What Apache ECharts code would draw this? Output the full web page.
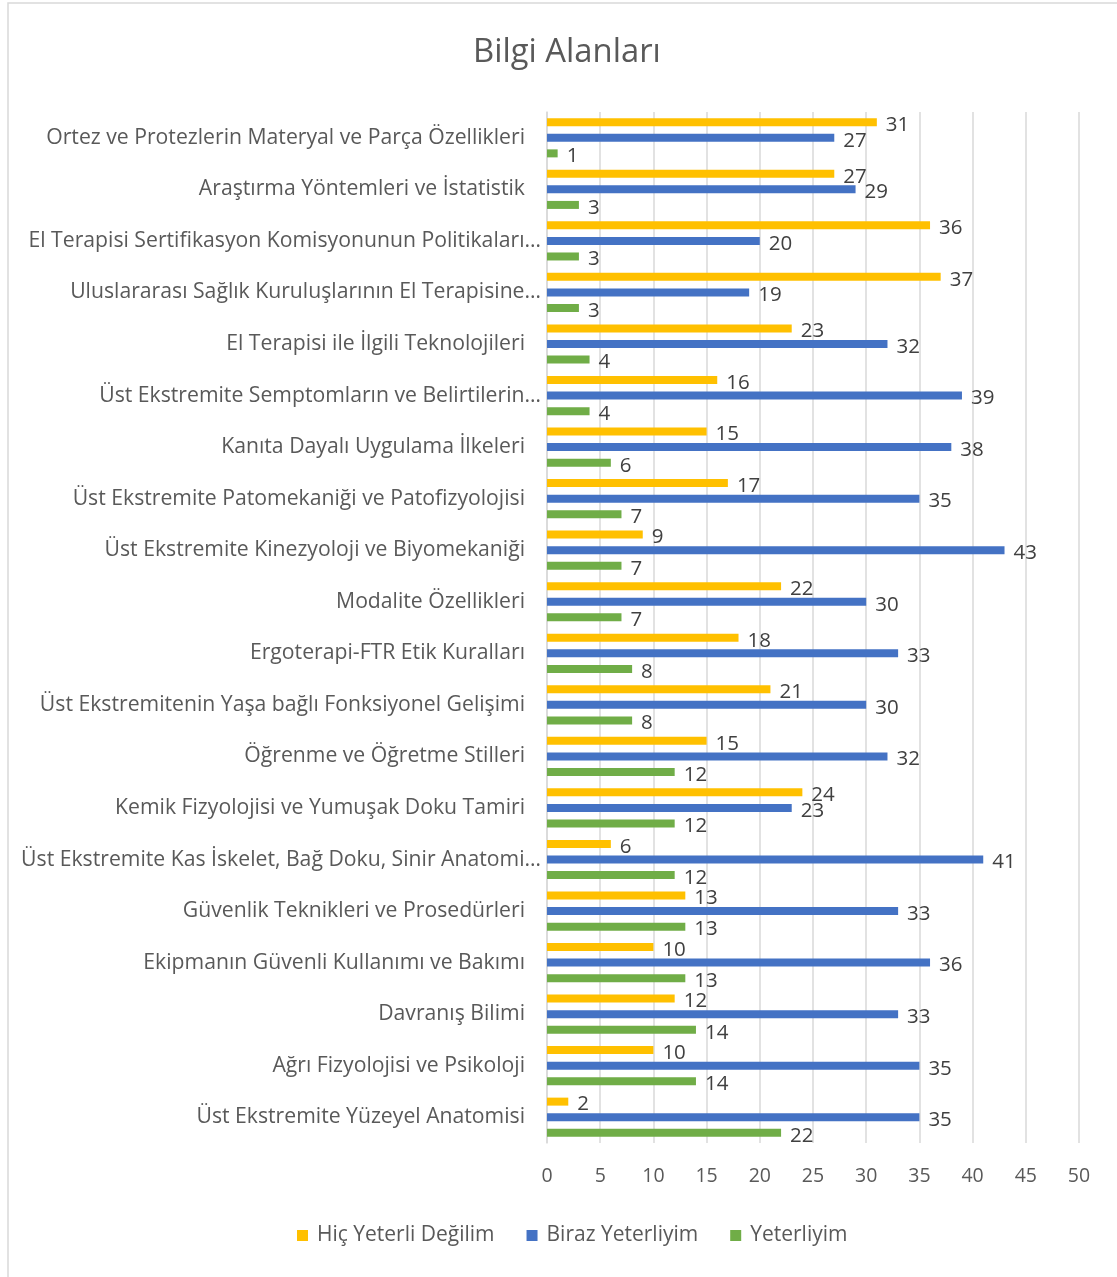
<!DOCTYPE html>
<html><head><meta charset="utf-8">
<script src="https://cdn.jsdelivr.net/npm/echarts@6/dist/echarts.min.js"></script>
<style>html,body{margin:0;padding:0;background:#fff}#c{width:1117px;height:1277px}</style>
</head><body><div id="c"></div>
<script>
const categories = [
  "Ortez ve Protezlerin Materyal ve Parça Özellikleri",
  "Araştırma Yöntemleri ve İstatistik",
  "El Terapisi Sertifikasyon Komisyonunun Politikaları…",
  "Uluslararası Sağlık Kuruluşlarının El Terapisine…",
  "El Terapisi ile İlgili Teknolojileri",
  "Üst Ekstremite Semptomların ve Belirtilerin…",
  "Kanıta Dayalı Uygulama İlkeleri",
  "Üst Ekstremite Patomekaniği ve Patofizyolojisi",
  "Üst Ekstremite Kinezyoloji ve Biyomekaniği",
  "Modalite Özellikleri",
  "Ergoterapi-FTR Etik Kuralları",
  "Üst Ekstremitenin Yaşa bağlı Fonksiyonel Gelişimi",
  "Öğrenme ve Öğretme Stilleri",
  "Kemik Fizyolojisi ve Yumuşak Doku Tamiri",
  "Üst Ekstremite Kas İskelet, Bağ Doku, Sinir Anatomi…",
  "Güvenlik Teknikleri ve Prosedürleri",
  "Ekipmanın Güvenli Kullanımı ve Bakımı",
  "Davranış Bilimi",
  "Ağrı Fizyolojisi ve Psikoloji",
  "Üst Ekstremite Yüzeyel Anatomisi"
];
const seriesNames = ["Hiç Yeterli Değilim", "Biraz Yeterliyim", "Yeterliyim"];
const hicYeterliDegilim = [31, 27, 36, 37, 23, 16, 15, 17, 9, 22, 18, 21, 15, 24, 6, 13, 10, 12, 10, 2];
const birazYeterliyim   = [27, 29, 20, 19, 32, 39, 38, 35, 43, 30, 33, 30, 32, 23, 41, 33, 36, 33, 35, 35];
const yeterliyim        = [1, 3, 3, 3, 4, 4, 6, 7, 7, 7, 8, 8, 12, 12, 12, 13, 13, 14, 14, 22];
const xTicks = [0, 5, 10, 15, 20, 25, 30, 35, 40, 45, 50];

const FONT = "Open Sans";
const colors = ["#FFC000", "#4472C4", "#70AD47"];
const values = [hicYeterliDegilim, birazYeterliyim, yeterliyim];

// truncated labels (ending with …) overhang towards the axis in the original
const catData = categories.map(c => c.endsWith('…')
  ? {value: c, textStyle: {padding: [0, -16, 0, 0]}}
  : c);

const chart = echarts.init(document.getElementById('c'), null, {renderer: 'canvas'});
chart.setOption({
  animation: false,
  backgroundColor: '#fff',
  title: {
    text: 'Bilgi Alanları', left: 468, top: 31,
    textStyle: {fontFamily: FONT, fontSize: 32.8, fontWeight: 'normal', color: '#595959'}
  },
  legend: {
    data: seriesNames, top: 1220, left: 292, itemWidth: 11, itemHeight: 11, itemGap: 32,
    icon: 'rect',
    textStyle: {fontFamily: FONT, fontSize: 21, color: '#595959', padding: [0,0,0,4]}
  },
  grid: {left: 547, right: 38, top: 112, bottom: 134, containLabel: false},
  xAxis: {
    type: 'value', min: xTicks[0], max: xTicks[xTicks.length - 1], interval: 5,
    axisLine: {show: false}, axisTick: {show: false},
    axisLabel: {fontFamily: FONT, fontSize: 19.5, color: '#595959', margin: 23},
    splitLine: {show: true, lineStyle: {color: '#D9D9D9', width: 1.5}}
  },
  yAxis: {
    type: 'category', data: catData, inverse: true,
    axisLine: {show: true, lineStyle: {color: '#D9D9D9', width: 1.5}},
    axisTick: {show: false},
    axisLabel: {fontFamily: FONT, fontSize: 21.2, color: '#595959', margin: 22}
  },
  series: seriesNames.map((n, i) => ({
    name: n, type: 'bar', data: values[i], barWidth: 8, barGap: '95%',
    itemStyle: {color: colors[i]},
    label: {show: true, position: 'right', distance: 9, offset: [0, 3],
      fontFamily: FONT, fontSize: 20.5, color: '#404040'}
  })),
  graphic: [{type: 'rect', shape: {x: 8, y: 3, width: 1200, height: 1400},
    style: {fill: 'none', stroke: '#D9D9D9', lineWidth: 1.5}, silent: true}]
});
</script></body></html>
